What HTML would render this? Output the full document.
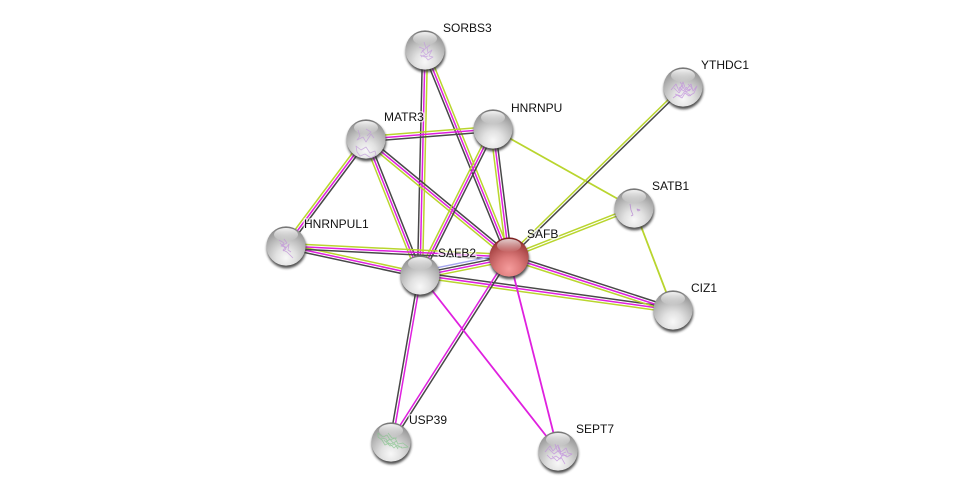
<!DOCTYPE html>
<html>
<head>
<meta charset="utf-8">
<style>
html,body{margin:0;padding:0;background:#fff}
svg{display:block}
text{font-family:"Liberation Sans",Arial,sans-serif;font-size:12px;fill:#111;paint-order:stroke;stroke:rgba(255,255,255,.65);stroke-width:3px;stroke-linejoin:round}
line{stroke-width:1.5}
line.s{stroke-width:1.8}
line.y{stroke:#b9d52e}
line.m{stroke:#df20df}
line.d{stroke:#484848}
line.b{stroke:#a6a6ee}
.st{fill:none;stroke-width:.8;stroke-linejoin:round;opacity:.75}
</style>
</head>
<body>
<svg width="976" height="496" viewBox="0 0 976 496" xmlns="http://www.w3.org/2000/svg">
<defs>
<radialGradient id="g" cx="50%" cy="80%" r="78%">
<stop offset="0" stop-color="#f8f8f8"/><stop offset=".32" stop-color="#e2e2e2"/><stop offset=".68" stop-color="#b8b8b8"/><stop offset=".92" stop-color="#989898"/><stop offset="1" stop-color="#747474"/>
</radialGradient>
<radialGradient id="r" cx="50%" cy="80%" r="76%">
<stop offset="0" stop-color="#f59c9c"/><stop offset=".38" stop-color="#de7c7c"/><stop offset=".72" stop-color="#b85656"/><stop offset=".92" stop-color="#a13e3e"/><stop offset="1" stop-color="#7c2020"/>
</radialGradient>
<linearGradient id="h" x1="0" y1="0" x2="0" y2="1">
<stop offset="0" stop-color="#fff" stop-opacity=".9"/><stop offset="1" stop-color="#fff" stop-opacity="0"/>
</linearGradient>
<filter id="bl" x="-30%" y="-30%" width="160%" height="160%"><feGaussianBlur stdDeviation="1.2"/></filter>
<g id="ball">
<circle cx=".5" cy="2.4" r="19.8" fill="#333" opacity=".85" filter="url(#bl)"/>
<circle r="19.6" fill="url(#g)"/>
<ellipse cx="0" cy="-11.5" rx="12" ry="6.5" fill="url(#h)"/>
</g>
<g id="rball">
<circle cx=".5" cy="2.4" r="19.8" fill="#333" opacity=".85" filter="url(#bl)"/>
<circle r="19.6" fill="url(#r)"/>
<ellipse cx="0" cy="-11.5" rx="12" ry="6.5" fill="url(#h)" opacity=".85"/>
</g>
</defs>

<!-- edges -->
<line class="d" x1="422.5" y1="50" x2="417.5" y2="275"/><line class="m" x1="425" y1="50" x2="420" y2="275"/><line class="y" x1="427.5" y1="50" x2="422.5" y2="275"/>
<line class="d" x1="422.7" y1="50.9" x2="506.7" y2="257.9"/><line class="m" x1="425" y1="50" x2="509" y2="257"/><line class="y" x1="427.3" y1="49.1" x2="511.3" y2="256.1"/>
<line class="y" x1="365.8" y1="136.5" x2="492.8" y2="126.5"/><line class="m" x1="366" y1="139" x2="493" y2="129"/><line class="d" x1="366.2" y1="141.5" x2="493.2" y2="131.5"/>
<line class="y" x1="364" y1="137.5" x2="284" y2="244.5"/><line class="m" x1="366" y1="139" x2="286" y2="246"/><line class="d" x1="368" y1="140.5" x2="288" y2="247.5"/>
<line class="y" x1="363.7" y1="139.9" x2="417.7" y2="275.9"/><line class="m" x1="366" y1="139" x2="420" y2="275"/><line class="d" x1="368.3" y1="138.1" x2="422.3" y2="274.1"/>
<line class="y" x1="364.4" y1="140.9" x2="507.4" y2="258.9"/><line class="m" x1="366" y1="139" x2="509" y2="257"/><line class="d" x1="367.6" y1="137.1" x2="510.6" y2="255.1"/>
<line class="y" x1="490.8" y1="127.9" x2="417.8" y2="273.9"/><line class="m" x1="493" y1="129" x2="420" y2="275"/><line class="d" x1="495.2" y1="130.1" x2="422.2" y2="276.1"/>
<line class="y" x1="490.5" y1="129.3" x2="506.5" y2="257.3"/><line class="m" x1="493" y1="129" x2="509" y2="257"/><line class="d" x1="495.5" y1="128.7" x2="511.5" y2="256.7"/>
<line class="y s" x1="493" y1="129" x2="634" y2="208"/>
<line class="y" x1="682.1" y1="86.1" x2="508.1" y2="256.1"/><line class="d" x1="683.9" y1="87.9" x2="509.9" y2="257.9"/>
<line class="y" x1="633.5" y1="206.8" x2="508.5" y2="255.8"/><line class="y" x1="634.5" y1="209.2" x2="509.5" y2="258.2"/>
<line class="y s" x1="634" y1="208" x2="673" y2="310"/>
<line class="y" x1="286.5" y1="243.6" x2="420.5" y2="272.6"/><line class="m" x1="286" y1="246" x2="420" y2="275"/><line class="d" x1="285.5" y1="248.4" x2="419.5" y2="277.4"/>
<line class="y" x1="286.1" y1="243.5" x2="509.1" y2="254.5"/><line class="m" x1="286" y1="246" x2="509" y2="257"/><line class="d" x1="285.9" y1="248.5" x2="508.9" y2="259.5"/>
<line class="b" x1="419.3" y1="271.3" x2="508.3" y2="253.3"/><line class="d" x1="419.75" y1="273.8" x2="508.75" y2="255.8"/><line class="m" x1="420.25" y1="276.2" x2="509.25" y2="258.2"/><line class="y" x1="420.74" y1="278.7" x2="509.74" y2="260.7"/>
<line class="d" x1="420.3" y1="272.5" x2="673.3" y2="307.5"/><line class="m" x1="420" y1="275" x2="673" y2="310"/><line class="y" x1="419.7" y1="277.5" x2="672.7" y2="312.5"/>
<line class="d" x1="509.8" y1="254.6" x2="673.8" y2="307.6"/><line class="m" x1="509" y1="257" x2="673" y2="310"/><line class="y" x1="508.2" y1="259.4" x2="672.2" y2="312.4"/>
<line class="d" x1="418.7" y1="274.8" x2="389.7" y2="441.8"/><line class="m" x1="421.3" y1="275.2" x2="392.3" y2="442.2"/>
<line class="m" x1="507.9" y1="256.3" x2="389.9" y2="441.3"/><line class="d" x1="510.1" y1="257.7" x2="392.1" y2="442.7"/>
<line class="m s" x1="420" y1="275" x2="558" y2="451"/>
<line class="m s" x1="509" y1="257" x2="558" y2="451"/>

<!-- nodes -->
<use href="#ball" x="425" y="50"/>
<path class="st" stroke="#c39ade" d="M419 47l5 2-3 4 6-6 1 6 4-3-3 6 4 1-5 3-4-5-3 2M424 42l2 6 4-3M422 50l4 5 3-3M420 55l5 2 3-1"/>
<use href="#ball" x="683" y="87"/>
<path class="st" stroke="#c08ddc" d="M671 90l5-6 3 7 4-9 3 8 5-6 2 7 4-5-3 7-5 3-4-3-3 5-5-3-4 3M675 94l6 2 4-5 6 5M688 84l4 4-3 3-3-4M674 88l5 5 4-6 3 5 4-3M680 82l3 4-4 2 5 3"/>
<use href="#ball" x="366" y="139"/>
<path class="st" stroke="#c09bd8" d="M358 130l2 6-3 4 6-3 3 5 5-8 3 4M366 129l5 3-4 4M356 146l5 4 5-3 4 6 5-2 1 4-5 3-6-4-5 2-3-4z"/>
<use href="#ball" x="493" y="129"/>
<use href="#ball" x="634" y="208"/>
<path class="st" stroke="#b27bd0" d="M630 204l1 6 2 5-2 1M637 209l3 1-2 1z"/>
<use href="#ball" x="286" y="246"/>
<path class="st" stroke="#c090d8" d="M279 240l5 3-3 3 5 1-3 3 4 2 3 3M284 239l3 4-4 2 3 3 3-4-1 6 3 2M280 243l6 6-3 2M287 252l6 6"/>
<use href="#ball" x="420" y="275"/>
<use href="#rball" x="509" y="257"/>
<use href="#ball" x="673" y="310"/>
<use href="#ball" x="391" y="442"/>
<path class="st" stroke="#86c48c" d="M378 433l5 4 4-2 3 5 5-2 3 6 5-1 5 4-6 1-5-3-3 3-5-5-4 2-3-5-4-3zM384 440l6 6 5-2 3 5M388 433l4 5 5 0M381 438l5 1 3 5 5-1 3 4 5 0M386 442l4-3 3 4 4-2"/>
<use href="#ball" x="558" y="451"/>
<path class="st" stroke="#c08ddc" d="M545 452l5-6 3 5 5-6 3 7 5-4 2 5 4 1-5 3-4-3-3 5-4-3-5 3-4-4M552 456l5 5 4-4 4 7M558 447l3 7 5-2M549 449l5 5 4-3 4 5 5-1M555 444l2 6 4 2"/>

<!-- labels -->
<text x="443" y="32">SORBS3</text>
<text x="701" y="69">YTHDC1</text>
<text x="384" y="121">MATR3</text>
<text x="511" y="112">HNRNPU</text>
<text x="652" y="190">SATB1</text>
<text x="304" y="228">HNRNPUL1</text>
<text x="438" y="257">SAFB2</text>
<text x="527" y="238">SAFB</text>
<text x="691" y="292">CIZ1</text>
<text x="409" y="424">USP39</text>
<text x="576" y="433">SEPT7</text>
</svg>
</body>
</html>
